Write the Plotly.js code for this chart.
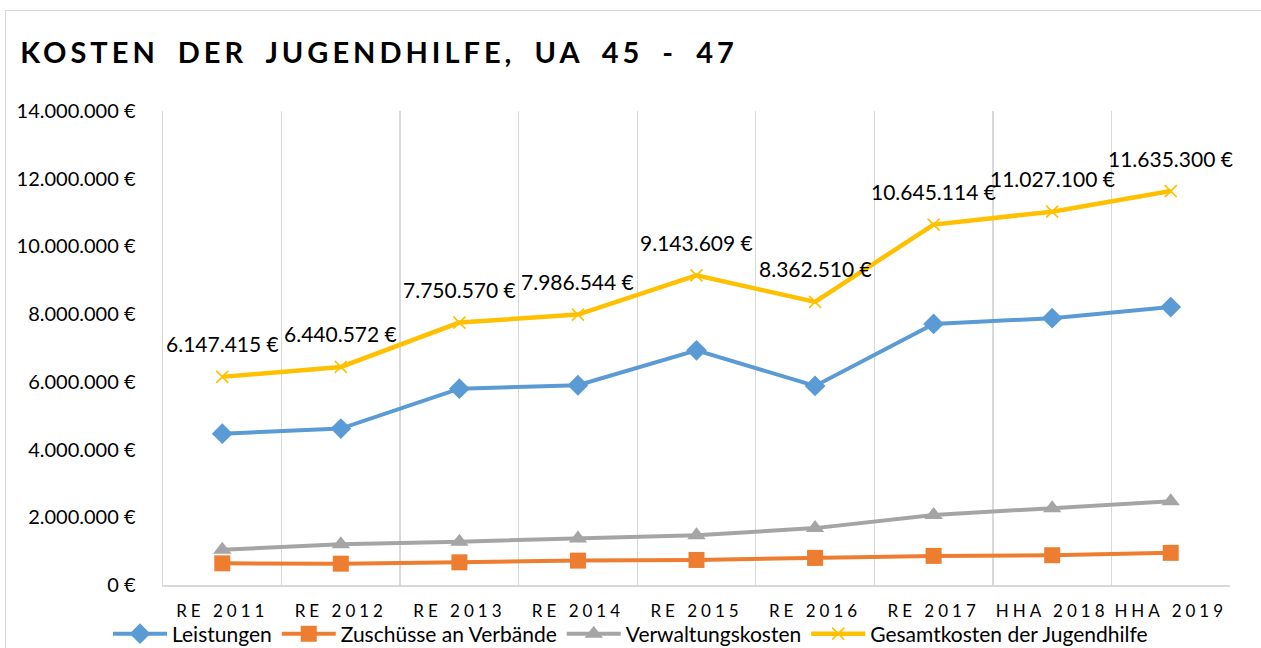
<!DOCTYPE html>
<html>
<head>
<meta charset="utf-8">
<script src="https://cdn.plot.ly/plotly-3.0.1.min.js"></script>
<style>
  html, body { margin: 0; padding: 0; background: #ffffff; }
  #frame { position: absolute; left: 5px; top: 10px; width: 1300px; height: 700px; border: 1px solid #d9d9d9; box-sizing: border-box; }
  #chart { position: absolute; left: 0; top: 0; width: 1261px; height: 648px; }
  .gtitle { letter-spacing: 4px; word-spacing: 8px; }
  .xtick text { letter-spacing: 4px; }
</style>
</head>
<body>
<div id="frame"></div>
<div id="chart"></div>
<script>
var categories = ["RE 2011", "RE 2012", "RE 2013", "RE 2014", "RE 2015", "RE 2016", "RE 2017", "HHA 2018", "HHA 2019"];
var leistungen = [4470000, 4620000, 5800000, 5900000, 6930000, 5880000, 7710000, 7880000, 8210000];
var zuschuesse = [640000, 630000, 670000, 720000, 740000, 800000, 860000, 880000, 950000];
var verwaltung = [1040000, 1200000, 1280000, 1370000, 1470000, 1680000, 2070000, 2270000, 2470000];
var gesamt = [6147415, 6440572, 7750570, 7986544, 9143609, 8362510, 10645114, 11027100, 11635300];
var seriesNames = ["Leistungen", "Zuschüsse an Verbände", "Verwaltungskosten", "Gesamtkosten der Jugendhilfe"];

function fmtEuro(v) {
  return String(Math.round(v)).replace(/\B(?=(\d{3})+(?!\d))/g, ".") + " €";
}

var FONT = "Lato, 'Open Sans', sans-serif";

var traces = [
  { x: categories, y: leistungen, name: seriesNames[0], type: "scatter", mode: "lines+markers",
    line: { color: "#5B9BD5", width: 4 }, marker: { symbol: "diamond", size: 16, color: "#5B9BD5" } },
  { x: categories, y: zuschuesse, name: seriesNames[1], type: "scatter", mode: "lines+markers",
    line: { color: "#ED7D31", width: 4 }, marker: { symbol: "square", size: 16, color: "#ED7D31" } },
  { x: categories, y: verwaltung, name: seriesNames[2], type: "scatter", mode: "lines+markers",
    line: { color: "#A5A5A5", width: 4 }, marker: { symbol: "triangle-up", size: 16, color: "#A5A5A5" } },
  { x: categories, y: gesamt, name: seriesNames[3], type: "scatter", mode: "lines+markers",
    line: { color: "#FFC000", width: 4.5 }, marker: { symbol: "x-thin-open", size: 12, color: "#FFC000", line: { color: "#FFC000", width: 1.6 } } }
];

var annotations = categories.map(function (c, i) {
  return { x: c, y: gesamt[i], xref: "x", yref: "y", text: fmtEuro(gesamt[i]), showarrow: false,
           yshift: 33, xanchor: "center", yanchor: "middle",
           font: { family: FONT, size: 21, color: "#000000" } };
});

var layout = {
  width: 1261, height: 648,
  margin: { l: 163, r: 31, t: 111, b: 63 },
  paper_bgcolor: "rgba(0,0,0,0)",
  plot_bgcolor: "rgba(0,0,0,0)",
  separators: ",.",
  showlegend: true,
  title: { text: "KOSTEN DER JUGENDHILFE, UA 45 - 47", xref: "container", yref: "container",
           x: 0.016, xanchor: "left", y: 1 - 53 / 648, yanchor: "middle",
           font: { family: FONT, size: 29, weight: 700, color: "#000000" } },
  xaxis: {
    type: "category", range: [-0.5, 8.5], tickson: "boundaries",
    showgrid: true, gridcolor: "#d9d9d9", gridwidth: 1.3,
    showline: true, linecolor: "#d9d9d9", linewidth: 1.5,
    ticks: "", ticklabelstandoff: 10,
    tickfont: { family: FONT, size: 17, color: "#000000" },
    fixedrange: true
  },
  yaxis: {
    range: [0, 14000000], dtick: 2000000, tick0: 0,
    tickformat: ",.0f", ticksuffix: " €",
    showgrid: false, zeroline: false,
    showline: true, linecolor: "#d9d9d9", linewidth: 1.5,
    ticks: "", ticklabelstandoff: 22,
    tickfont: { family: FONT, size: 20, color: "#000000" },
    fixedrange: true
  },
  legend: { orientation: "h", xref: "container", yref: "container", x: 0.5, xanchor: "center",
            y: 14 / 648, yanchor: "middle", itemwidth: 54,
            font: { family: FONT, size: 21, color: "#000000" } },
  annotations: annotations,
  hovermode: false
};

Plotly.newPlot("chart", traces, layout, { displayModeBar: false, staticPlot: true });
</script>
</body>
</html>
